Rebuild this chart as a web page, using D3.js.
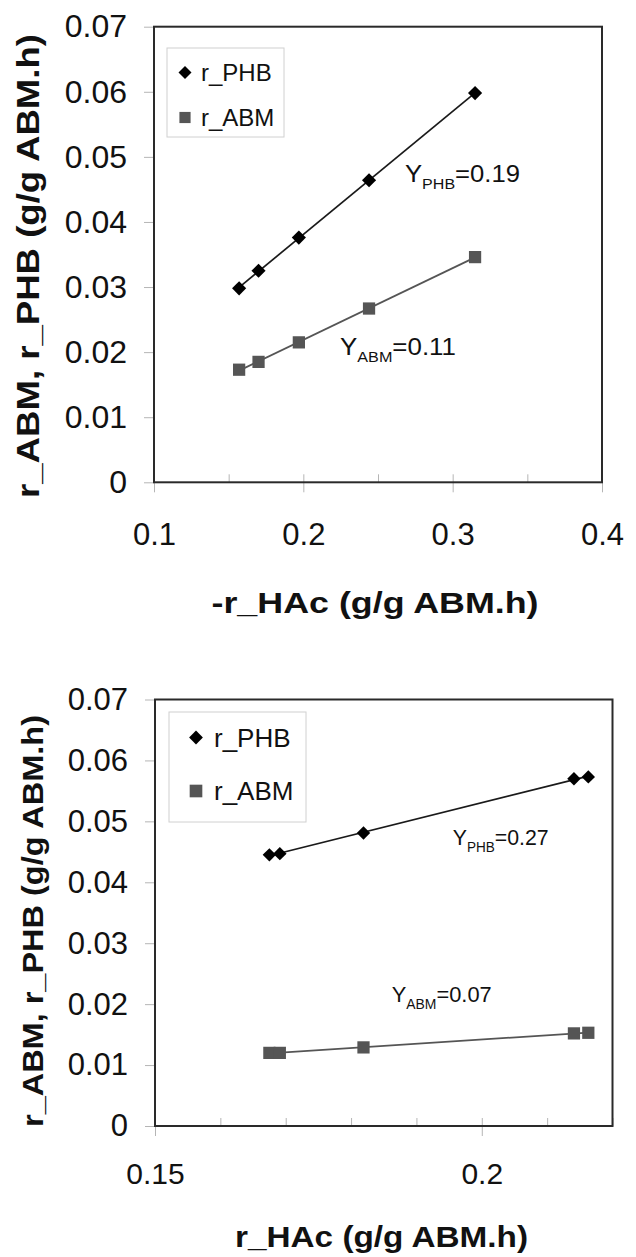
<!DOCTYPE html>
<html><head><meta charset="utf-8">
<script src="https://cdn.jsdelivr.net/npm/d3@7"></script>
<style>
body{margin:0;background:#fff}
svg{display:block;font-family:Arial,"Liberation Sans",Helvetica,sans-serif}
</style>
</head><body>
<svg id="c" width="636" height="1257"></svg>
<script>
// ---------- data ----------
const seriesNames = ["r_PHB", "r_ABM"];

// top panel
const topX   = [0.157, 0.170, 0.197, 0.244, 0.315];
const topPHB = [0.0298, 0.0325, 0.0376, 0.0464, 0.0598];
const topABM = [0.0173, 0.0185, 0.0215, 0.0267, 0.0346];
const topYields = ["0.19", "0.11"];

// bottom panel
const botX   = [0.1675, 0.1691, 0.1819, 0.2141, 0.2163];
const botPHB = [0.0445, 0.0447, 0.0481, 0.0570, 0.0573];
const botABM = [0.0120, 0.0120, 0.0129, 0.0152, 0.0153];
const botYields = ["0.27", "0.07"];

// ticks
const yTicks = [0, 0.01, 0.02, 0.03, 0.04, 0.05, 0.06, 0.07];
const yTickLabels = ["0", "0.01", "0.02", "0.03", "0.04", "0.05", "0.06", "0.07"];
const topXTicks = [0.1, 0.2, 0.3, 0.4];
const topXTickLabels = ["0.1", "0.2", "0.3", "0.4"];
const topXMinor = [0.15, 0.25, 0.35];
const botXTicks = [0.15, 0.2];
const botXTickLabels = ["0.15", "0.2"];
const botXMinor = [0.16, 0.17, 0.18, 0.19, 0.21, 0.22];

const topXTitle = "-r_HAc (g/g ABM.h)";
const botXTitle = "r_HAc (g/g ABM.h)";
const yTitle = "r_ABM, r_PHB (g/g ABM.h)";

// ---------- drawing ----------
const svg = d3.select("#c");
const PHB_COLOR = "#000", PHB_LINE = "#1a1a1a";
const ABM_COLOR = "#555", ABM_LINE = "#555";

function fit(xs, ys) {
  const mx = d3.mean(xs), my = d3.mean(ys);
  let sxy = 0, sxx = 0;
  xs.forEach((x, i) => { sxy += (x - mx) * (ys[i] - my); sxx += (x - mx) * (x - mx); });
  const m = sxy / sxx;
  return { m, b: my - m * mx };
}

function panel(cfg) {
  const g = svg.append("g");
  const x = d3.scaleLinear().domain(cfg.xDomain).range([cfg.l, cfg.r]);
  const y = d3.scaleLinear().domain([0, 0.07]).range([cfg.b, cfg.t]);

  // y axis ticks (outside)
  const ya = g.append("g").attr("transform", `translate(${cfg.l},0)`)
    .call(d3.axisLeft(y).tickValues(yTicks).tickFormat((d, i) => yTickLabels[i])
      .tickSize(10).tickPadding(17));
  ya.select(".domain").remove();
  ya.selectAll("line").attr("stroke", "#b5b5b5");
  ya.selectAll("text").attr("font-size", cfg.yTickFont).attr("fill", "#111").attr("font-family", null);

  // x axis major ticks (outside) with labels
  const xa = g.append("g").attr("transform", `translate(0,${cfg.b})`)
    .call(d3.axisBottom(x).tickValues(cfg.xTicks).tickFormat((d, i) => cfg.xTickLabels[i])
      .tickSize(10).tickPadding(cfg.xPad));
  xa.select(".domain").remove();
  xa.selectAll("line").attr("stroke", "#b5b5b5");
  xa.selectAll("text").attr("font-size", cfg.tickFont).attr("fill", "#111").attr("font-family", null);

  // inside ticks (major + minor)
  const xi = g.append("g").attr("transform", `translate(0,${cfg.b})`)
    .call(d3.axisTop(x).tickValues(cfg.xTicks.concat(cfg.xMinor)).tickFormat("").tickSize(8));
  xi.select(".domain").remove();
  xi.selectAll("line").attr("stroke", "#b5b5b5");

  // frame
  g.append("rect").attr("x", cfg.l).attr("y", cfg.t)
    .attr("width", cfg.r - cfg.l).attr("height", cfg.b - cfg.t)
    .attr("fill", "none").attr("stroke", "#2a2a2a").attr("stroke-width", 2);

  // trend lines
  const series = [
    { ys: cfg.phb, line: PHB_LINE },
    { ys: cfg.abm, line: ABM_LINE }
  ];
  const x0 = d3.min(cfg.xs), x1 = d3.max(cfg.xs);
  series.forEach(s => {
    const f = fit(cfg.xs, s.ys);
    g.append("line")
      .attr("x1", x(x0)).attr("y1", y(f.m * x0 + f.b))
      .attr("x2", x(x1)).attr("y2", y(f.m * x1 + f.b))
      .attr("stroke", s.line).attr("stroke-width", 1.7);
  });

  const diamond = d3.symbol().type(d3.symbolSquare).size(cfg.diaSize);
  const square = d3.symbol().type(d3.symbolSquare).size(cfg.sqSize);

  // markers
  g.selectAll(".abm").data(cfg.xs.map((d, i) => [d, cfg.abm[i]])).join("path")
    .attr("d", square).attr("fill", ABM_COLOR)
    .attr("transform", d => `translate(${x(d[0])},${y(d[1])})`);
  g.selectAll(".phb").data(cfg.xs.map((d, i) => [d, cfg.phb[i]])).join("path")
    .attr("d", diamond).attr("fill", PHB_COLOR)
    .attr("transform", d => `translate(${x(d[0])},${y(d[1])}) rotate(45)`);

  // legend
  const L = cfg.legend;
  g.append("rect").attr("x", L.x).attr("y", L.y).attr("width", L.w).attr("height", L.h)
    .attr("fill", "#fff").attr("stroke", "#d0d0d0").attr("stroke-width", 1);
  g.append("path").attr("d", d3.symbol().type(d3.symbolSquare).size(L.dia)())
    .attr("fill", PHB_COLOR).attr("transform", `translate(${L.mx},${L.y1}) rotate(45)`);
  g.append("path").attr("d", d3.symbol().type(d3.symbolSquare).size(L.sq)())
    .attr("fill", ABM_COLOR).attr("transform", `translate(${L.mx},${L.y2})`);
  g.append("text").attr("x", L.tx).attr("y", L.y1).attr("dy", "0.35em")
    .attr("font-size", L.font).attr("fill", "#111").text(seriesNames[0]);
  g.append("text").attr("x", L.tx).attr("y", L.y2).attr("dy", "0.35em")
    .attr("font-size", L.font).attr("fill", "#111").text(seriesNames[1]);

  // yield annotations
  cfg.ann.forEach((a, i) => {
    const t = g.append("text").attr("x", a.x).attr("y", a.y).attr("font-size", a.f).attr("fill", "#111")
      .attr("textLength", a.w).attr("lengthAdjust", "spacingAndGlyphs");
    t.append("tspan").text("Y");
    t.append("tspan").attr("font-size", a.sf).attr("dy", a.sd).text(i === 0 ? "PHB" : "ABM");
    t.append("tspan").attr("dy", -a.sd).text("=" + cfg.yields[i]);
  });

  // axis titles
  g.append("text").attr("x", cfg.xt.x).attr("y", cfg.xt.y).attr("text-anchor", "middle")
    .attr("font-size", cfg.xt.f).attr("font-weight", "bold").attr("fill", "#111")
    .attr("textLength", cfg.xt.w).attr("lengthAdjust", "spacingAndGlyphs").text(cfg.xTitle);
  g.append("text").attr("transform", `translate(${cfg.yt.x},${cfg.yt.y}) rotate(-90)`)
    .attr("text-anchor", "middle")
    .attr("font-size", cfg.yt.f).attr("font-weight", "bold").attr("fill", "#111")
    .attr("textLength", cfg.yt.w).attr("lengthAdjust", "spacingAndGlyphs").text(yTitle);
}

panel({
  l: 154, r: 602, t: 26.7, b: 482.3, xDomain: [0.1, 0.4],
  xs: topX, phb: topPHB, abm: topABM, yields: topYields,
  xTicks: topXTicks, xTickLabels: topXTickLabels, xMinor: topXMinor,
  tickFont: 31, yTickFont: 32, xPad: 31,
  diaSize: 100, sqSize: 150,
  legend: { x: 167, y: 48, w: 117, h: 89, mx: 185, y1: 72.5, y2: 117.5, tx: 201, font: 24, dia: 85, sq: 125 },
  ann: [
    { x: 405, y: 181.7, f: 24, sf: 15, sd: 7, w: 115 },
    { x: 340, y: 355, f: 24, sf: 15, sd: 7, w: 116 }
  ],
  xTitle: topXTitle,
  xt: { x: 375, y: 613.3, f: 29, w: 327 },
  yt: { x: 39, y: 266, f: 31, w: 464 }
});

panel({
  l: 155, r: 612.5, t: 699.5, b: 1126, xDomain: [0.15, 0.22],
  xs: botX, phb: botPHB, abm: botABM, yields: botYields,
  xTicks: botXTicks, xTickLabels: botXTickLabels, xMinor: botXMinor,
  tickFont: 30, yTickFont: 31, xPad: 27,
  diaSize: 90, sqSize: 150,
  legend: { x: 169, y: 712, w: 137, h: 110, mx: 196, y1: 737.5, y2: 791, tx: 214, font: 26, dia: 95, sq: 160 },
  ann: [
    { x: 452.7, y: 845, f: 22, sf: 14, sd: 7, w: 96 },
    { x: 391.7, y: 1001.7, f: 22, sf: 14, sd: 7, w: 100 }
  ],
  xTitle: botXTitle,
  xt: { x: 381.5, y: 1246.7, f: 29, w: 293 },
  yt: { x: 43, y: 921, f: 30, w: 412 }
});
</script>
</body></html>
